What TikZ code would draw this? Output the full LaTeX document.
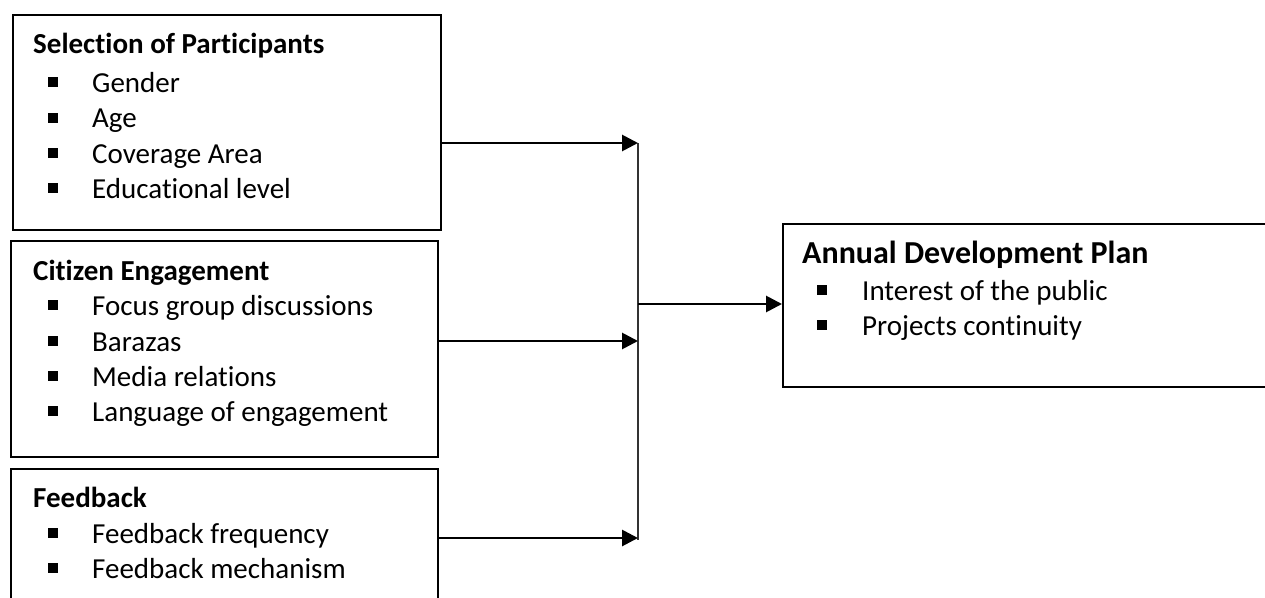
\documentclass[tikz,border=0pt]{standalone}
\usepackage{fontspec}
\setmainfont{Carlito}[Ligatures=NoCommon]
\usetikzlibrary{arrows.meta}
\newcommand\sqb[1]{\rule[5pt]{10pt}{10pt}\hspace{#1}}
\begin{document}
\begin{tikzpicture}[x=1pt,y=-1pt,
  box/.style={draw=black,line width=1.7pt,rectangle,anchor=north west,inner sep=0pt},
  head/.style={anchor=base west,inner sep=0pt,font=\fontsize{29}{35}\selectfont\bfseries},
  bighead/.style={anchor=base west,inner sep=0pt,font=\fontsize{32}{38}\selectfont\bfseries},
  item/.style={anchor=base west,inner sep=0pt,font=\fontsize{29}{35}\selectfont},
  conn/.style={line width=2.8pt,-{Triangle[length=16pt,width=16pt]}},
  bus/.style={line width=1.5pt,draw=black!80}]
\useasboundingbox (0,0) rectangle (1265,597);
\clip (0,0) rectangle (1265,597);
% boxes
\node[box,minimum width=428pt,minimum height=215pt] (b1) at (12,14) {};
\node[box,minimum width=427pt,minimum height=216pt] (b2) at (10,240) {};
\node[box,minimum width=427pt,minimum height=160pt] (b3) at (10,468) {};
\node[box,minimum width=520pt,minimum height=163pt] (adp) at (782,223) {};
% box 1 text
\node[head] (t1) at (33,53) {Selection of Participants};
\node[item] (i11) at (48,92) {\sqb{34pt}Gender};
\node[item] (i12) at (48,127.5) {\sqb{34pt}Age};
\node[item] (i13) at (48,163) {\sqb{34pt}Coverage Area};
\node[item] (i14) at (48,198) {\sqb{34pt}Educational level};
% box 2 text
\node[head] (t2) at (33,280) {Citizen Engagement};
\node[item] (i21) at (48,315) {\sqb{34pt}Focus group discussions};
\node[item] (i22) at (48,351) {\sqb{34pt}Barazas};
\node[item] (i23) at (48,386) {\sqb{34pt}Media relations};
\node[item] (i24) at (48,421) {\sqb{34pt}Language of engagement};
% box 3 text
\node[head] (t3) at (33,507) {Feedback};
\node[item] (i31) at (48,543) {\sqb{34pt}Feedback frequency};
\node[item] (i32) at (48,578) {\sqb{34pt}Feedback mechanism};
% right box text
\node[bighead] (t4) at (802,263) {Annual Development Plan};
\node[item] (i41) at (817,300) {\sqb{35pt}Interest of the public};
\node[item] (i42) at (817,335) {\sqb{35pt}Projects continuity};
% junction coordinates
\coordinate (j1) at (638,143);
\coordinate (j2) at (638,341);
\coordinate (j3) at (638,538);
\coordinate (jm) at (638,304);
\coordinate (jb) at (638,540);
% connectors
\draw[bus] (j1) -- (jb);
\draw[conn] (b1.east |- j1) -- (j1);
\draw[conn] (b2.east |- j2) -- (j2);
\draw[conn] (b3.east |- j3) -- (j3);
\draw[conn] (jm) -- (adp.west |- jm);
\end{tikzpicture}
\end{document}
